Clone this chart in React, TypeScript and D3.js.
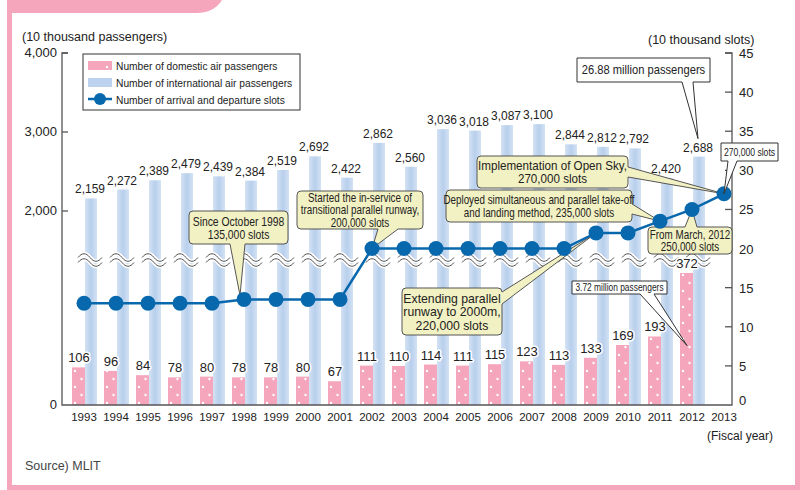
import React from 'react';
import * as d3 from 'd3';

// fiscal years 1993-2013
const years = d3.range(1993, 2014).map(String);
// 10 thousand passengers, 1993-2012
const domestic = [106, 96, 84, 78, 80, 78, 78, 80, 67, 111, 110, 114, 111, 115, 123, 113, 133, 169, 193, 372];
const international = [2159, 2272, 2389, 2479, 2439, 2384, 2519, 2692, 2422, 2862, 2560, 3036, 3018, 3087, 3100, 2844, 2812, 2792, 2420, 2688];
// 10 thousand slots, 1993-2013
const slots = [13, 13, 13, 13, 13, 13.5, 13.5, 13.5, 13.5, 20, 20, 20, 20, 20, 20, 20, 22, 22, 23.5, 25, 27];

const leftTicks = [0, 2000, 3000, 4000];
const rightTicks = [0, 5, 10, 15, 20, 25, 30, 35, 40, 45];

const legendLabels = [
  'Number of domestic air passengers',
  'Number of international air passengers',
  'Number of arrival and departure slots',
];

const FONT = '"Liberation Sans", Arial, sans-serif';
const PINK = '#f5a6bd';
const BLUE = '#0868ad';

const x = d3.scaleBand().domain(years).range([68, 740]).padding(0);
const xc = (y: string) => (x(y) as number) + 16;
const yUpper = d3.scaleLinear().domain([2000, 4000]).range([211, 53]);
const yLower = d3.scaleLinear().domain([0, 400]).range([405, 263]);
const ySlots = d3.scaleLinear().domain([0, 45]).range([405, 53]);
const fmt = d3.format(',');

type Edge = 'top' | 'right' | 'bottom' | 'left';

function calloutPath(bx: number, by: number, w: number, h: number, r: number, edge: Edge, a: number, b: number, tx: number, ty: number) {
  const p = d3.path();
  p.moveTo(bx + r, by);
  if (edge === 'top') { p.lineTo(a, by); p.lineTo(tx, ty); p.lineTo(b, by); }
  p.lineTo(bx + w - r, by);
  if (r) p.quadraticCurveTo(bx + w, by, bx + w, by + r);
  if (edge === 'right') { p.lineTo(bx + w, a); p.lineTo(tx, ty); p.lineTo(bx + w, b); }
  p.lineTo(bx + w, by + h - r);
  if (r) p.quadraticCurveTo(bx + w, by + h, bx + w - r, by + h);
  if (edge === 'bottom') { p.lineTo(b, by + h); p.lineTo(tx, ty); p.lineTo(a, by + h); }
  p.lineTo(bx + r, by + h);
  if (r) p.quadraticCurveTo(bx, by + h, bx, by + h - r);
  if (edge === 'left') { p.lineTo(bx, b); p.lineTo(tx, ty); p.lineTo(bx, a); }
  p.lineTo(bx, by + r);
  if (r) p.quadraticCurveTo(bx, by, bx + r, by);
  p.closePath();
  return p.toString();
}

// condensed text: no narrow font installed, so squeeze horizontally
function Narrow({ x, y, size, sx, anchor = 'middle', children }: any) {
  return (
    <text transform={`translate(${x},${y}) scale(${sx},1)`} fontSize={size} textAnchor={anchor} fill="#222">{children}</text>
  );
}

const idx = (y: string) => years.indexOf(y);

// yellow callouts
const notes = [
  { lines: ['Since October 1998', '135,000 slots'], box: [189, 211, 99, 33], edge: 'bottom' as Edge, a: 230, b: 245, tip: [xc('1998') - 4, ySlots(slots[idx('1998')]) - 4], size: 12.5, sx: 0.83, lh: 13 },
  { lines: ['Started the in-service of', 'transitional parallel runway,', '200,000 slots'], box: [297, 191, 126, 38], edge: 'bottom' as Edge, a: 378, b: 398, tip: [xc('2002'), ySlots(slots[idx('2002')])], size: 12, sx: 0.82, lh: 12.5 },
  { lines: ['Implementation of Open Sky,', '270,000 slots'], box: [477, 156, 151, 32], edge: 'right' as Edge, a: 167, b: 177, tip: [xc('2013'), ySlots(slots[idx('2013')])], size: 12.5, sx: 0.93, lh: 13.5 },
  { lines: ['Deployed simultaneous and parallel take-off', 'and landing method, 235,000 slots'], box: [446, 190, 186, 32], edge: 'right' as Edge, a: 204, b: 214, tip: [xc('2011'), ySlots(slots[idx('2011')])], size: 12, sx: 0.82, lh: 13 },
  { lines: ['From March,  2012', '250,000 slots'], box: [648, 227, 84, 27], edge: 'top' as Edge, a: 685, b: 697, tip: [xc('2012'), ySlots(slots[idx('2012')])], size: 12, sx: 0.82, lh: 12.5 },
  { lines: ['Extending parallel', 'runway to 2000m,', '220,000 slots'], box: [402, 288, 100, 47], edge: 'right' as Edge, a: 292, b: 304, tip: [xc('2009'), ySlots(slots[idx('2009')])], size: 12.5, sx: 0.98, lh: 13.5 },
];

// white callouts
const labels = [
  { text: '26.88 million passengers', box: [577, 58, 133, 24], edge: 'bottom' as Edge, a: 682, b: 693, tip: [xc('2012') + 6, yUpper(international[idx('2012')]) - 18], size: 12, sx: 0.93 },
  { text: '270,000 slots', box: [721, 143, 57, 18], edge: 'bottom' as Edge, a: 728, b: 737, tip: [xc('2013'), ySlots(slots[idx('2013')])], size: 10.5, sx: 0.82 },
  { text: '3.72 million passengers', box: [572, 281, 95, 13], edge: 'bottom' as Edge, a: 640, b: 654, tip: [xc('2012') - 5, yLower(domestic[idx('2012')] * 0.45)], size: 10.5, sx: 0.8 },
];

const wave = 'M-12,0 C-8,-5 -4,-5 0,0 S8,5 12,0';

export default function App() {
  const barYears = years.slice(0, 20);
  const line = d3.line<number>().x((_, i) => xc(years[i])).y((d) => ySlots(d));

  return (
    <svg width={800} height={490} style={{ position: 'absolute', left: 0, top: 0, background: '#fff' }} fontFamily={FONT}>
      <defs>
        <linearGradient id="intl" x1="0" x2="1" y1="0" y2="0">
          <stop offset="0" stopColor="#d3e2f4" />
          <stop offset="0.5" stopColor="#b8cfec" />
          <stop offset="1" stopColor="#d3e2f4" />
        </linearGradient>
        <pattern id="dots" patternUnits="userSpaceOnUse" x={72} y={0} width={32} height={16}>
          <rect width={32} height={16} fill={PINK} />
          <circle cx={3} cy={3} r={1.2} fill="#fff" />
          <circle cx={9.5} cy={11} r={1.2} fill="#fff" />
        </pattern>
      </defs>

      {/* frame */}
      <path d="M7,0 H222 Q214,13 196,13 H12 V485 H795 V0 H800 V490 H7 Z" fill={PINK} />

      {/* international bars */}
      {barYears.map((y, i) => (
        <rect key={'in' + y} x={xc(y) + 1} y={yUpper(international[i])} width={12} height={405 - yUpper(international[i])} fill="url(#intl)" />
      ))}
      {/* domestic bars */}
      {barYears.map((y, i) => (
        <rect key={'do' + y} x={xc(y) - 12} y={yLower(domestic[i])} width={13} height={405 - yLower(domestic[i])} fill="url(#dots)" />
      ))}

      {/* break marks */}
      {barYears.map((y) => (
        <g key={'w' + y} transform={`translate(${xc(y) + 6},260)`} fill="none">
          <path d={wave} transform="translate(0,-2.5)" stroke="#fff" strokeWidth={4} />
          <path d={wave} transform="translate(0,2.5)" stroke="#fff" strokeWidth={4} />
          <path d={wave} transform="translate(0,-2.5)" stroke="#555" strokeWidth={1} />
          <path d={wave} transform="translate(0,2.5)" stroke="#555" strokeWidth={1} />
        </g>
      ))}

      {/* value labels */}
      <g fontSize={13} textAnchor="middle" fill="#222" stroke="#fff" strokeWidth={3} paintOrder="stroke" strokeLinejoin="round">
        {barYears.map((y, i) => (
          <text key={'li' + y} x={xc(y) + 6} y={yUpper(international[i]) - 5} textLength={30} lengthAdjust="spacingAndGlyphs">{fmt(international[i])}</text>
        ))}
        {barYears.map((y, i) => (
          <text key={'ld' + y} x={xc(y) - 5} y={yLower(domestic[i]) - 5}>{fmt(domestic[i])}</text>
        ))}
      </g>

      {/* axes */}
      <path d="M68,53 H62 V405 H732 V53 H725" fill="none" stroke="#555" strokeWidth={1.3} />
      {leftTicks.map((t) => {
        const ty = t === 0 ? yLower(0) : yUpper(t);
        return (
          <g key={'lt' + t}>
            {t > 0 && <line x1={62} x2={68} y1={ty} y2={ty} stroke="#555" strokeWidth={1.3} />}
            <text x={57} y={ty + 4} fontSize={13} textAnchor="end" fill="#222">{fmt(t)}</text>
          </g>
        );
      })}
      {rightTicks.map((t) => (
        <g key={'rt' + t}>
          {t > 0 && <line x1={725} x2={732} y1={ySlots(t)} y2={ySlots(t)} stroke="#555" strokeWidth={1.3} />}
          <text x={739} y={ySlots(t) + (t === 0 ? 0 : 5)} fontSize={13} fill="#222">{t}</text>
        </g>
      ))}
      {years.map((y) => (
        <text key={'x' + y} x={xc(y)} y={421} fontSize={11.5} textAnchor="middle" fill="#222">{y}</text>
      ))}

      <text x={22} y={41} fontSize={12.5} fill="#222">(10 thousand passengers)</text>
      <text x={648} y={44} fontSize={12.5} fill="#222">(10 thousand slots)</text>
      <text x={707} y={440} fontSize={12} fill="#222">(Fiscal year)</text>
      <text x={25} y={470} fontSize={12.5} fill="#444">Source) MLIT</text>

      {/* yellow callouts */}
      {notes.map((n, k) => {
        const [bx, by, w, h] = n.box;
        const y0 = by + h / 2 - ((n.lines.length - 1) * n.lh) / 2 + n.size * 0.36;
        return (
          <g key={'n' + k}>
            <path d={calloutPath(bx, by, w, h, 4, n.edge, n.a, n.b, n.tip[0], n.tip[1])} fill="#f2f1c3" stroke="#555" strokeWidth={1} />
            {n.lines.map((l, j) => (
              <Narrow key={j} x={bx + w / 2} y={y0 + j * n.lh} size={n.size} sx={n.sx}>{l}</Narrow>
            ))}
          </g>
        );
      })}

      {/* slots line */}
      <path d={line(slots) as string} fill="none" stroke={BLUE} strokeWidth={2.5} />
      {slots.map((s, i) => (
        <circle key={'c' + i} cx={xc(years[i])} cy={ySlots(s)} r={7.5} fill={BLUE} />
      ))}

      {/* white callouts */}
      {labels.map((l, k) => {
        const [bx, by, w, h] = l.box;
        return (
          <g key={'l' + k}>
            <path d={calloutPath(bx, by, w, h, 0, l.edge, l.a, l.b, l.tip[0], l.tip[1])} fill="#fff" stroke="#333" strokeWidth={1} />
            <Narrow x={bx + w / 2} y={by + h / 2 + l.size * 0.36} size={l.size} sx={l.sx}>{l.text}</Narrow>
          </g>
        );
      })}

      {/* legend */}
      <g>
        <rect x={83} y={54} width={217} height={56} fill="#fff" stroke="#333" strokeWidth={1} />
        <rect x={88} y={61} width={24} height={9} fill="url(#dots)" />
        <rect x={88} y={78} width={24} height={9} fill="#bcd2ee" />
        <line x1={88} x2={112} y1={99} y2={99} stroke={BLUE} strokeWidth={2.5} />
        <circle cx={100} cy={99} r={6} fill={BLUE} />
        {legendLabels.map((l, i) => (
          <Narrow key={l} x={116} y={70 + i * 17} size={11.5} sx={0.89} anchor="start">{l}</Narrow>
        ))}
      </g>
    </svg>
  );
}
